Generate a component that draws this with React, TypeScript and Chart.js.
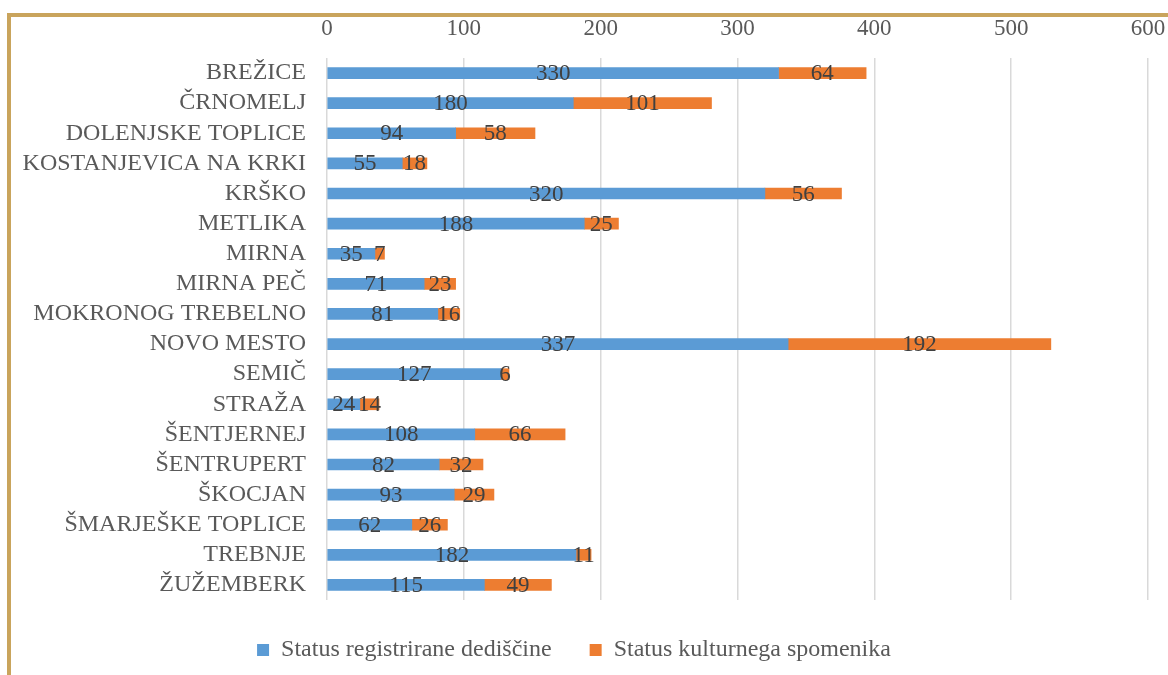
import React, { useEffect, useRef } from "react";
import { Chart, registerables } from "chart.js";

Chart.register(...registerables);

const categories = [
  "BREŽICE",
  "ČRNOMELJ",
  "DOLENJSKE TOPLICE",
  "KOSTANJEVICA NA KRKI",
  "KRŠKO",
  "METLIKA",
  "MIRNA",
  "MIRNA PEČ",
  "MOKRONOG TREBELNO",
  "NOVO MESTO",
  "SEMIČ",
  "STRAŽA",
  "ŠENTJERNEJ",
  "ŠENTRUPERT",
  "ŠKOCJAN",
  "ŠMARJEŠKE TOPLICE",
  "TREBNJE",
  "ŽUŽEMBERK",
];

const registeredHeritage = [330, 180, 94, 55, 320, 188, 35, 71, 81, 337, 127, 24, 108, 82, 93, 62, 182, 115];
const culturalMonument = [64, 101, 58, 18, 56, 25, 7, 23, 16, 192, 6, 14, 66, 32, 29, 26, 11, 49];

const seriesNames = ["Status registrirane dediščine", "Status kulturnega spomenika"];
const seriesColors = ["#5B9BD5", "#ED7D31"];

const xTicks = { min: 0, max: 600, step: 100 };

const FONT = '"Liberation Serif", "Times New Roman", serif';

const valueLabels = {
  id: "valueLabels",
  afterDatasetsDraw(chart: any) {
    const ctx = chart.ctx;
    ctx.save();
    ctx.font = `23px ${FONT}`;
    ctx.fillStyle = "#404040";
    ctx.textAlign = "center";
    ctx.textBaseline = "middle";
    chart.data.datasets.forEach((ds: any, di: number) => {
      const meta = chart.getDatasetMeta(di);
      meta.data.forEach((el: any, i: number) => {
        const { x, base, y } = el.getProps(["x", "base", "y"], true);
        ctx.fillText(String(ds.data[i]), (x + base) / 2, y + 1);
      });
    });
    ctx.restore();
  },
};

export default function App() {
  const ref = useRef<HTMLCanvasElement>(null);

  useEffect(() => {
    if (!ref.current) return;
    const chart = new Chart(ref.current, {
      type: "bar",
      data: {
        labels: categories,
        datasets: [
          {
            label: seriesNames[0],
            data: registeredHeritage,
            backgroundColor: seriesColors[0],
            borderWidth: 0,
            barThickness: 11,
          },
          {
            label: seriesNames[1],
            data: culturalMonument,
            backgroundColor: seriesColors[1],
            borderWidth: 0,
            barThickness: 11,
          },
        ],
      },
      options: {
        indexAxis: "y",
        animation: false,
        responsive: false,
        devicePixelRatio: 1,
        layout: { padding: { left: 0, right: 20, top: 0, bottom: 3 } },
        scales: {
          x: {
            position: "top",
            stacked: true,
            min: xTicks.min,
            max: xTicks.max,
            ticks: {
              stepSize: xTicks.step,
              color: "#595959",
              font: { family: FONT, size: 23 },
              padding: 15,
            },
            grid: { color: "#D9D9D9", lineWidth: 1.5, drawTicks: false },
            border: { display: false },
            afterFit(scale: any) {
              scale.height = 58;
              scale.paddingRight = 0;
              scale.paddingLeft = 0;
            },
          },
          y: {
            stacked: true,
            ticks: {
              color: "#595959",
              font: { family: FONT, size: 24 },
              padding: 21,
              autoSkip: false,
            },
            grid: { display: false, drawTicks: false },
            border: { display: false },
            afterFit(scale: any) {
              scale.width = 327;
            },
          },
        },
        plugins: {
          legend: {
            position: "bottom",
            labels: {
              color: "#595959",
              font: { family: FONT, size: 24 },
              boxWidth: 12,
              boxHeight: 12,
              padding: 38,
            },
          },
          tooltip: { enabled: false },
        },
      },
      plugins: [valueLabels],
    });
    return () => chart.destroy();
  }, []);

  return (
    <div
      style={{
        position: "fixed",
        left: 0,
        top: 0,
        width: 1168,
        height: 675,
        overflow: "hidden",
        background: "#fff",
      }}
    >
      <div
        style={{
          position: "absolute",
          left: 7,
          top: 13,
          width: 1157,
          height: 658,
          borderTop: "4px solid #C9A45C",
          borderLeft: "4px solid #C9A45C",
        }}
      />
      <canvas
        ref={ref}
        width={1168}
        height={675}
        style={{ position: "absolute", left: 0, top: 0, width: 1168, height: 675 }}
      />
    </div>
  );
}
